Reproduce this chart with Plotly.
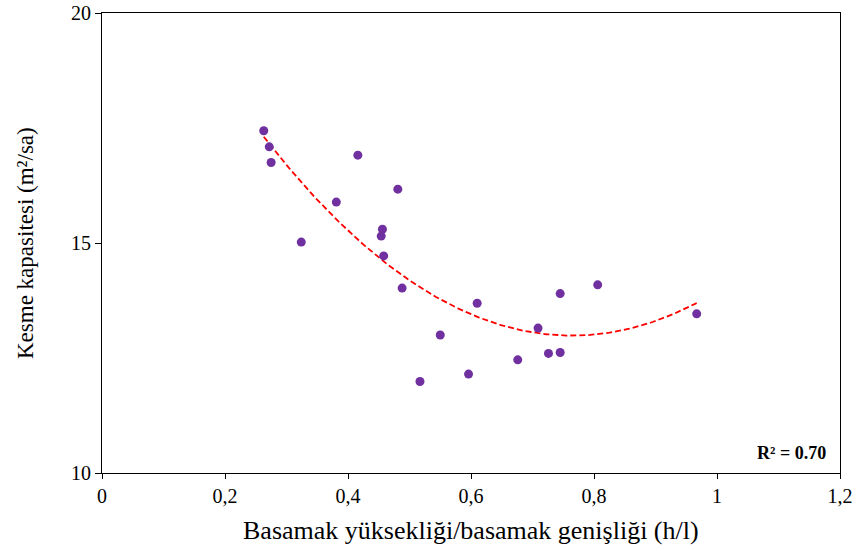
import numpy as np
import plotly.graph_objects as go

# Data
x_vals = [0.263, 0.272, 0.275, 0.324, 0.381, 0.416, 0.454, 0.456, 0.458, 0.481,
          0.488, 0.517, 0.550, 0.596, 0.610, 0.676, 0.709, 0.726, 0.745, 0.745,
          0.806, 0.967]
y_vals = [17.44, 17.09, 16.75, 15.02, 15.89, 16.91, 15.15, 15.30, 14.72, 16.17,
          14.02, 11.99, 13.00, 12.15, 13.69, 12.46, 13.15, 12.60, 12.62, 13.90,
          14.09, 13.46]

x_title = "Basamak yüksekliği/basamak genişliği (h/l)"
y_title = "Kesme kapasitesi (m²/sa)"
x_tickvals = [0, 0.2, 0.4, 0.6, 0.8, 1, 1.2]
x_ticktext = ["0", "0,2", "0,4", "0,6", "0,8", "1", "1,2"]
y_tickvals = [10, 15, 20]
r2_label = "R² = 0.70"

# Second-order polynomial trendline (as in the source)
coef = np.polyfit(x_vals, y_vals, 2)
xf = np.linspace(min(x_vals), max(x_vals), 200)
yf = np.polyval(coef, xf)

fig = go.Figure()
fig.add_trace(go.Scatter(x=xf, y=yf, mode="lines",
                         line=dict(color="#FF0000", width=1.8, dash="6px,3px"),
                         hoverinfo="skip", showlegend=False))
fig.add_trace(go.Scatter(x=x_vals, y=y_vals, mode="markers",
                         marker=dict(color="#7030A0", size=9, line=dict(width=0)),
                         showlegend=False))

font_family = "Liberation Serif, Times New Roman, serif"
fig.update_layout(
    width=857, height=551,
    margin=dict(l=102, r=17, t=13, b=78),
    paper_bgcolor="white", plot_bgcolor="white",
    font=dict(family=font_family, color="#000000", size=20),
    xaxis=dict(range=[0, 1.2], tickvals=x_tickvals, ticktext=x_ticktext,
               showgrid=False, zeroline=False, showline=True, linecolor="#000000",
               linewidth=1.2, mirror=True, ticks="outside", ticklen=5,
               tickcolor="#000000", tickfont=dict(size=20), automargin=False),
    yaxis=dict(range=[10, 20], tickvals=y_tickvals,
               showgrid=False, zeroline=False, showline=True, linecolor="#000000",
               linewidth=1.2, mirror=True, ticks="outside", ticklen=6,
               tickcolor="#000000", tickfont=dict(size=20), automargin=False),
    annotations=[
        dict(text="<b>" + r2_label + "</b>", x=1, y=0, xref="paper", yref="paper",
             xanchor="right", yanchor="bottom", xshift=-12, yshift=8,
             showarrow=False, font=dict(size=18, family=font_family)),
        dict(text=x_title, x=0.5, y=0, xref="paper", yref="paper",
             xanchor="center", yanchor="middle", yshift=-57,
             showarrow=False, font=dict(size=26, family=font_family)),
        dict(text=y_title, x=0, y=0.5, xref="paper", yref="paper",
             xanchor="center", yanchor="middle", xshift=-77, textangle=-90,
             showarrow=False, font=dict(size=23, family=font_family)),
    ],
)

fig.write_html("out.html")
